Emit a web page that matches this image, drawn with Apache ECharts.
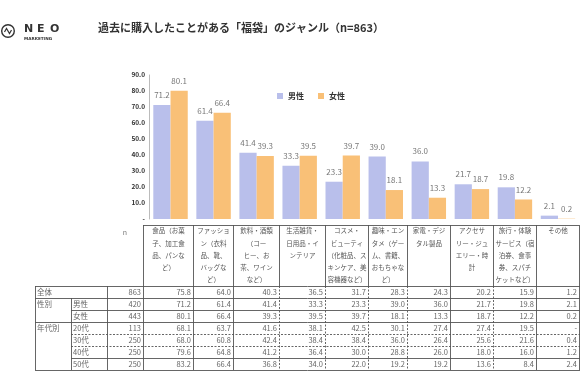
<!DOCTYPE html>
<html><head><meta charset="utf-8">
<script src="https://cdn.jsdelivr.net/npm/echarts@6/dist/echarts.min.js"></script>
<style>html,body{margin:0;padding:0;background:#fff}#c{width:585px;height:385px}</style>
</head><body><div id="c"></div>
<script>
const titleText = '過去に購入したことがある「福袋」のジャンル（n=863）';
const categories = ['食品（お菓子、加工食品、パンなど）','ファッション（衣料品、靴、バッグなど）','飲料・酒類（コーヒー、お茶、ワインなど）','生活雑貨・日用品・インテリア','コスメ・ビューティ（化粧品、スキンケア、美容機器など）','趣味・エンタメ（ゲーム、書籍、おもちゃなど）','家電・デジタル製品','アクセサリー・ジュエリー・時計','旅行・体験サービス（宿泊券、食事券、スパチケットなど）','その他'];
const headerLines = [
  ['食品（お菓','子、加工食','品、パンな','ど）'],
  ['ファッショ','ン（衣料','品、靴、','バッグな','ど）'],
  ['飲料・酒類','（コー','ヒー、お','茶、ワイン','など）'],
  ['生活雑貨・','日用品・イ','ンテリア'],
  ['コスメ・','ビューティ','（化粧品、ス','キンケア、美','容機器など）'],
  ['趣味・エン','タメ（ゲー','ム、書籍、','おもちゃな','ど）'],
  ['家電・デジ','タル製品'],
  ['アクセサ','リー・ジュ','エリー・時','計'],
  ['旅行・体験','サービス（宿','泊券、食事','券、スパチ','ケットなど）'],
  ['その他']
];
const seriesNames = ['男性','女性'];
const male   = [71.2, 61.4, 41.4, 33.3, 23.3, 39.0, 36.0, 21.7, 19.8, 2.1];
const female = [80.1, 66.4, 39.3, 39.5, 39.7, 18.1, 13.3, 18.7, 12.2, 0.2];
const total  = [75.8, 64.0, 40.3, 36.5, 31.7, 28.3, 24.3, 20.2, 15.9, 1.2];
const age20  = [68.1, 63.7, 41.6, 38.1, 42.5, 30.1, 27.4, 27.4, 19.5, null];
const age30  = [68.0, 60.8, 42.4, 38.4, 38.4, 36.0, 26.4, 25.6, 21.6, 0.4];
const age40  = [79.6, 64.8, 41.2, 36.4, 30.0, 28.8, 26.0, 18.0, 16.0, 1.2];
const age50  = [83.2, 66.4, 36.8, 34.0, 22.0, 19.2, 19.2, 13.6, 8.4, 2.4];
const groupLabels = ['全体','性別','','年代別','','',''];
const subLabels   = ['','男性','女性','20代','30代','40代','50代'];
const nValues     = [863, 420, 443, 113, 250, 250, 250];
const yTicks = {min:0, max:90, interval:10};

const FONT = 'Noto Sans CJK JP';
const rows = [total, male, female, age20, age30, age40, age50];

// layout constants
const colX = [143,193,233,279,325,368,407,450,493,536,579];
const colSolid = [true,true,true,false,false,false,false,true,false,true,true];
const headTop = 225, rowTop = 286, rowH = 12;

function buildGraphics(){
  const g = [];
  const line = (x1,y1,x2,y2,dash)=>g.push({type:'line',silent:true,shape:{x1,y1,x2,y2},
    style:{stroke:'#555',lineWidth:0.9,lineDash:dash?[2,1.5]:null}});
  const text = (x,y,t,opt)=>g.push({type:'text',silent:true,x,y,style:Object.assign({text:t,fontFamily:FONT,fontSize:7.5,fill:'#666',verticalAlign:'middle'},opt||{})});
  // logo
  g.push({type:'circle',silent:true,shape:{cx:8,cy:31,r:6.3},style:{fill:'none',stroke:'#333',lineWidth:1.4}});
  g.push({type:'polyline',silent:true,shape:{points:[[4.5,32],[6.5,28.5],[9.5,33.5],[11.5,30]]},style:{fill:'none',stroke:'#333',lineWidth:1.2}});
  ['N','E','O'].forEach((ch,i)=>text(24+i*13,29.5,ch,{fontSize:11,fontWeight:'bold',fill:'#333',fontFamily:'DejaVu Sans'}));
  text(24,38.5,'MARKETING',{fontSize:4.2,fontWeight:'bold',fill:'#333',fontFamily:'DejaVu Sans'});
  // title
  text(98,28,titleText,{fontSize:11,fontWeight:'bold',fill:'#333'});
  // header
  line(colX[0],headTop+0.5,colX[10],headTop+0.5);
  colX.forEach(x=>line(x+0.5,headTop,x+0.5,rowTop,false));
  headerLines.forEach((ls,i)=>{
    const cx=(colX[i]+colX[i+1])/2+0.5;
    ls.forEach((t,j)=>text(cx,231+j*12.2,t,{fontSize:6.5,fill:'#555',align:'center'}));
  });
  text(125,232,'n',{fontSize:7,fill:'#777',align:'center'});
  // row lines
  const hl=[{x:35,d:false},{x:35,d:false},{x:71,d:false},{x:35,d:false},{x:71,d:true},{x:71,d:true},{x:71,d:false},{x:35,d:false}];
  hl.forEach((h,k)=>line(h.x,rowTop+k*rowH+0.5,colX[10]+1,rowTop+k*rowH+0.5,h.d));
  const yb = rowTop+rows.length*rowH;
  line(35.5,rowTop,35.5,yb); line(71.5,rowTop+rowH,71.5,yb); line(107.5,rowTop,107.5,yb);
  colX.forEach((x,i)=>line(x+0.5,rowTop,x+0.5,yb,!colSolid[i]));
  rows.forEach((r,k)=>{
    const cy=rowTop+k*rowH+6.5;
    if(groupLabels[k]) text(37,cy,groupLabels[k]);
    if(subLabels[k]) text(73,cy,subLabels[k]);
    text(141,cy,String(nValues[k]),{align:'right'});
    r.forEach((v,i)=>text(colX[i+1]-2,cy,v==null?'-':v.toFixed(1),{align:'right'}));
  });
  return g;
}

const chart = echarts.init(document.getElementById('c'));
const lbl = {show:true,position:'top',distance:6,fontSize:8,color:'#777',formatter:p=>p.value.toFixed(1)};
chart.setOption({
  animation:false,
  textStyle:{fontFamily:FONT},
  grid:{left:149,right:5.5,top:75,bottom:166},
  legend:{data:seriesNames,left:272,top:87,icon:'rect',itemWidth:6,itemHeight:6,itemGap:14,
    textStyle:{fontSize:8,fontWeight:'bold',color:'#333'}},
  xAxis:{type:'category',data:categories,axisLine:{show:false},axisTick:{show:false},axisLabel:{show:false}},
  yAxis:{type:'value',min:yTicks.min,max:yTicks.max,interval:yTicks.interval,
    splitLine:{show:false},axisLine:{show:true,lineStyle:{color:'#bbb'}},axisTick:{show:false},
    axisLabel:{fontSize:6.5,fontWeight:'bold',color:'#333',margin:4,formatter:v=>v===0?'-':v.toFixed(1)}},
  series:[
    {name:seriesNames[0],type:'bar',data:male,barGap:'0%',barCategoryGap:'20%',itemStyle:{color:'#b9bfeb'},label:lbl},
    {name:seriesNames[1],type:'bar',data:female,barGap:'0%',barCategoryGap:'20%',itemStyle:{color:'#f9c077'},label:lbl}
  ],
  graphic:buildGraphics()
});
</script></body></html>
